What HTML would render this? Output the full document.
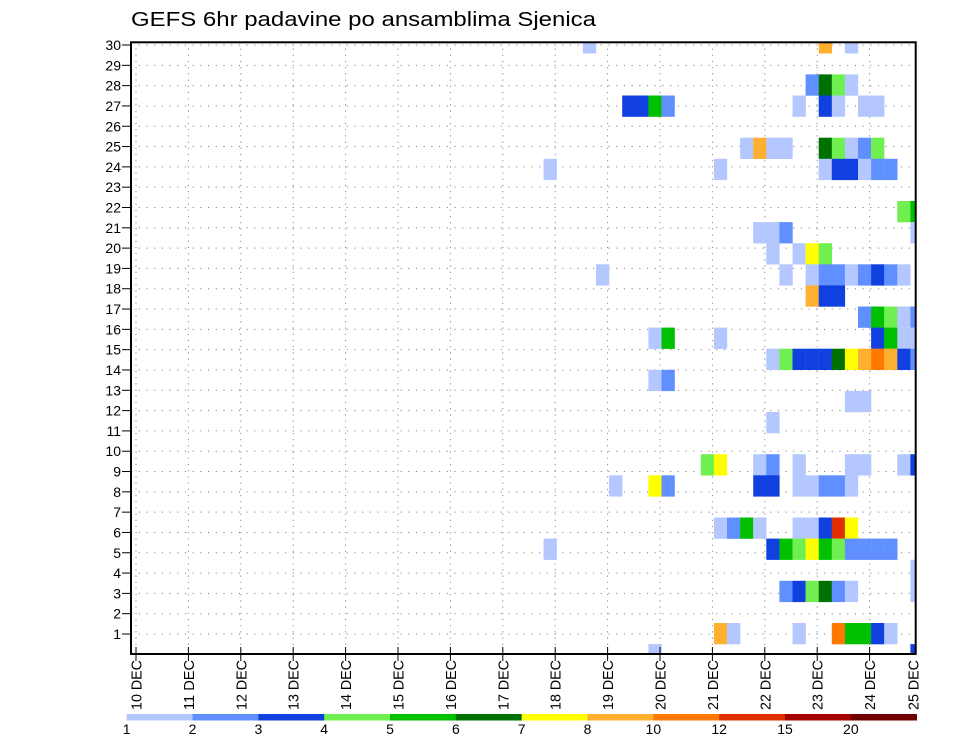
<!DOCTYPE html>
<html>
<head>
<meta charset="utf-8">
<style>
  html,body{margin:0;padding:0;background:#fff;}
  body{width:960px;height:742px;overflow:hidden;}
  svg{display:block;font-family:"Liberation Sans",sans-serif;}
</style>
</head>
<body>
<svg id="chart" width="960" height="742" viewBox="0 0 960 742" xmlns="http://www.w3.org/2000/svg">
  <text x="131" y="26" font-size="20" textLength="465" lengthAdjust="spacingAndGlyphs" fill="#000">GEFS 6hr padavine po ansamblima Sjenica</text>
  <defs><clipPath id="plotclip"><rect x="131" y="42.3" width="784.7" height="611.7"/></clipPath></defs>
  <g id="grid"></g>
  <g id="cells" clip-path="url(#plotclip)"></g>
  <g id="axes"></g>
  <g id="cbar"></g>
</svg>
<script>
// ---- data ----
const dayLabels = ["10 DEC","11 DEC","12 DEC","13 DEC","14 DEC","15 DEC","16 DEC","17 DEC","18 DEC","19 DEC","20 DEC","21 DEC","22 DEC","23 DEC","24 DEC","25 DEC"];
const memberLabels = [1,2,3,4,5,6,7,8,9,10,11,12,13,14,15,16,17,18,19,20,21,22,23,24,25,26,27,28,29,30];
const levels = [1,2,3,4,5,6,7,8,10,12,15,20];
const levelColors = ["#b4c8ff","#6090ff","#1040e0","#70f050","#00c000","#007000","#ffff00","#ffb030","#ff7800","#e03000","#a80000","#700000"];
// cells: member slot (visual row), 6-hour step index, precip value (mm)
const cellMember = [
28,28,28,
26,26,26,26,
25,25,25,25,25,25,25,25,25,
23,23,23,23,23,23,23,23,23,
22,22,22,22,22,22,22,22,
20,20,
19,19,19,19,
18,18,18,18,
17,17,17,17,17,17,17,17,17,17,
16,16,16,
15,15,15,15,15,
14,14,14,14,14,14,14,
13,13,13,13,13,13,13,13,13,13,13,13,
12,12,
11,11,
10,
8,8,8,8,8,8,8,8,8,
7,7,7,7,7,7,7,7,7,7,
5,5,5,5,5,5,5,5,5,
4,4,4,4,4,4,4,4,4,4,4,
3,
2,2,2,2,2,2,2,
0,0,0,0,0,0,0,0,
-1,-1];
const cellStep = [
34,52,54,
51,52,53,54,
37,38,39,40,50,52,53,55,56,
46,47,48,49,52,53,54,55,56,
31,44,52,53,54,55,56,57,
58,59,
47,48,49,59,
48,50,51,52,
35,49,51,52,53,54,55,56,57,58,
51,52,53,
55,56,57,58,59,
39,40,44,56,57,58,59,
48,49,50,51,52,53,54,55,56,57,58,59,
39,40,
54,55,
48,
43,44,47,48,50,54,55,58,59,
36,39,40,47,48,50,51,52,53,54,
44,45,46,47,50,51,52,53,54,
31,48,49,50,51,52,53,54,55,56,57,
59,
49,50,51,52,53,54,59,
44,45,50,53,54,55,56,57,
39,59];
const cellValue = [
1.5,9,1.5,
2.5,6.5,4.5,1.5,
3.5,3.5,5.5,2.5,1.5,3.5,1.5,1.5,1.5,
1.5,9,1.5,1.5,6.5,4.5,1.5,2.5,4.5,
1.5,1.5,1.5,3.5,3.5,1.5,2.5,2.5,
4.5,5.5,
1.5,1.5,2.5,1.5,
1.5,1.5,7.5,4.5,
1.5,1.5,1.5,2.5,2.5,1.5,2.5,3.5,2.5,1.5,
9,3.5,3.5,
2.5,5.5,4.5,1.5,2.5,
1.5,5.5,1.5,3.5,5.5,1.5,1.5,
1.5,4.5,3.5,3.5,3.5,6.5,7.5,9,11,9,3.5,2.5,
1.5,2.5,
1.5,1.5,
1.5,
4.5,7.5,1.5,2.5,1.5,1.5,1.5,1.5,3.5,
1.5,7.5,2.5,3.5,3.5,1.5,1.5,2.5,2.5,1.5,
1.5,2.5,5.5,1.5,1.5,1.5,3.5,13,7.5,
1.5,3.5,5.5,4.5,7.5,5.5,4.5,2.5,2.5,2.5,2.5,
1.5,
2.5,3.5,4.5,6.5,2.5,1.5,1.5,
9,1.5,1.5,11,5.5,5.5,3.5,1.5,
1.5,3.5];

// ---- scales ----
const NS = "http://www.w3.org/2000/svg";
const plotL = 131, plotR = 915.7, plotT = 42.3, plotB = 654;
const dayX0 = 136, dayW = 52.4;
function xDay(d){ return dayX0 + d*dayW; }
function xStep(s){ return xDay(s/4) + 1.5; }
const stepW = dayW/4;
function yLabel(m){ return 634 - (m-1)*20.31; }
const memberH = 21.1;
function yCellTop(k){ return 623 - k*memberH; }
function colorFor(v){
  let c = levelColors[0];
  for (let i=0;i<levels.length;i++){ if (v >= levels[i]) c = levelColors[i]; }
  return c;
}
function mk(tag, attrs, parent){
  const e = document.createElementNS(NS, tag);
  for (const k in attrs) e.setAttribute(k, attrs[k]);
  parent.appendChild(e);
  return e;
}

// ---- grid ----
const grid = document.getElementById('grid');
for (let d=0; d<15; d++){
  const x = xDay(d);
  const l = mk('line',{x1:x,y1:plotT,x2:x,y2:plotB,stroke:'#888','stroke-width':1,'stroke-dasharray':'1.2 5'},grid);
  
  
}
memberLabels.forEach(m=>{
  const y = yLabel(m);
  const l = mk('line',{x1:plotL,y1:y,x2:plotR,y2:y,stroke:'#888','stroke-width':1,'stroke-dasharray':'1.2 6.5'},grid);
  
  
});

// ---- cells ----
const cells = document.getElementById('cells');
for (let i=0;i<cellValue.length;i++){
  const r = mk('rect',{x:xStep(cellStep[i]), y:yCellTop(cellMember[i]), width:stepW+0.2, height:memberH+0.2, fill:colorFor(cellValue[i])},cells);
  
  
}

// ---- axes ----
const axes = document.getElementById('axes');
const frame = mk('rect',{x:plotL,y:plotT,width:plotR-plotL,height:plotB-plotT,fill:'none',stroke:'#000','stroke-width':2},axes);


memberLabels.forEach(m=>{
  const y = yLabel(m);
  const t = mk('line',{x1:122,y1:y,x2:plotL,y2:y,stroke:'#000','stroke-width':1},axes);
  
  
  const tx = mk('text',{x:121,y:y+5,'font-size':14,'text-anchor':'end',fill:'#000'},axes);
  tx.textContent = m;
  
  
});
dayLabels.forEach((lab,d)=>{
  const x = d < 15 ? xDay(d) : 913;
  if (d < 15){
    const t = mk('line',{x1:x,y1:plotB-7,x2:x,y2:plotB+7,stroke:'#000','stroke-width':1},axes);
    
    
  }
  const tx = mk('text',{x:0,y:0,'font-size':15,'text-anchor':'end',fill:'#000',textLength:50,lengthAdjust:'spacingAndGlyphs',
    transform:'translate('+(x+5.5)+',660) rotate(-90)'},axes);
  tx.textContent = lab;
  
  
});

// ---- colorbar ----
const cbar = document.getElementById('cbar');
const cbX0 = 126.7, cbW = 65.83;
levels.forEach((lv,i)=>{
  const r = mk('rect',{x:cbX0+i*cbW, y:714, width:cbW+0.3, height:6.5, fill:levelColors[i]},cbar);
  
  
  const t = mk('text',{x:cbX0+i*cbW, y:734, 'font-size':14,'text-anchor':'middle',fill:'#000'},cbar);
  t.textContent = lv;
  
  
});
</script>
</body>
</html>
